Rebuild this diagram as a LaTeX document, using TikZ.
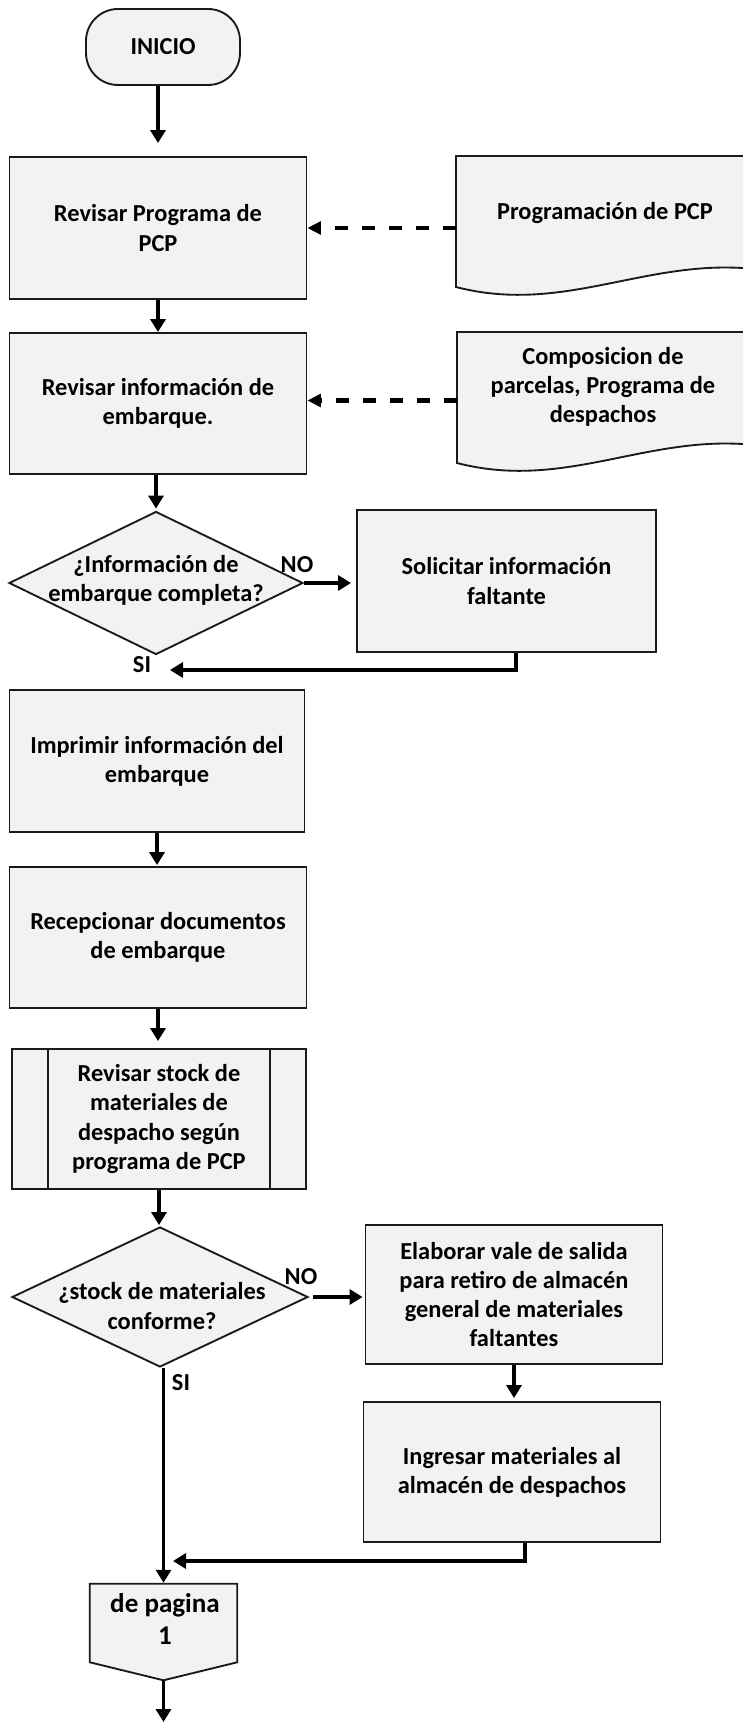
\documentclass[tikz,border=0pt]{standalone}
\usepackage{fontspec}
\setmainfont{Carlito}
\usetikzlibrary{shapes.geometric,arrows.meta,calc}
\definecolor{boxfill}{HTML}{F2F2F2}
\definecolor{boxline}{HTML}{1A1A1A}
\begin{document}
\begin{tikzpicture}[x=0.75pt,y=-0.75pt,
  txt/.style={font=\bfseries\fontsize{18.3}{21.8}\selectfont, align=center, inner sep=0pt},
  box/.style={txt, draw=boxline, fill=boxfill, line width=1.4pt, rectangle},
  sz/.style 2 args={minimum width=#1*0.75pt, minimum height=#2*0.75pt},
  dec/.style={draw=boxline, fill=boxfill, line width=1.4pt, diamond, inner sep=0pt},
  shape line/.style={draw=boxline, fill=boxfill, line width=1.4pt},
  arr/.style={line width=2.5pt, -{Triangle[width=11.25pt,length=9.75pt]}},
  darr/.style={line width=3pt, dash pattern=on 9.75pt off 10.5pt, -{Triangle[width=9.5pt,length=10pt]}},
  gap/.style={shorten >=#1*0.75pt},
  lbl/.style={font=\bfseries\fontsize{18.3}{21.8}\selectfont, inner sep=0pt}
]
\fill[white] (0,0) rectangle (742,1722);
\useasboundingbox (0,0) rectangle (742,1722);

% start
\node[box, rounded corners=24pt, sz={154}{76}] (ini) at (163,47) {INICIO};

% first process
\node[box, sz={297}{142}] (b1) at (158,228) {Revisar Programa de\\PCP};

% document 1
\coordinate (doc1) at (456,156);
\path[shape line] (770,156) -- (doc1) -- (456,287)
  .. controls (560,314) and (640,262) .. (742,268) -- (770,267) -- cycle;
\node[txt] (doc1t) at (605,213) {Programación de PCP};

% second process
\node[box, sz={297}{141}] (b2) at (158,403.5) {Revisar información de\\embarque.};

% document 2
\coordinate (doc2) at (457,332);
\path[shape line] (770,332) -- (doc2) -- (457,463)
  .. controls (561,490) and (641,438) .. (742,444) -- (770,443) -- cycle;
\node[txt] (doc2t) at (603,387) {Composicion de\\parcelas, Programa de\\despachos};

% decision 1
\node[dec, sz={294}{143}] (d1) at (156,583) {};
\node[txt] (d1t) at (156,580) {¿Información de\\embarque completa?};
\node[box, sz={299}{142}] (sol) at (506.5,581) {Solicitar información\\faltante};
\node[lbl] (no1) at (297,565) {NO};
\node[lbl] (si1) at (142,665) {SI};
\coordinate (r1) at (170,670);

% next processes
\node[box, sz={295}{142}] (imp) at (157,761) {Imprimir información del\\embarque};
\node[box, sz={297}{141}] (rec) at (158,937.5) {Recepcionar documentos\\de embarque};
\node[box, sz={294}{140}] (pp) at (159,1119) {Revisar stock de\\materiales de\\despacho según\\programa de PCP};
\draw[boxline, line width=1.4pt] ([xshift=27.75pt]pp.north west) -- ([xshift=27.75pt]pp.south west);
\draw[boxline, line width=1.4pt] ([xshift=-27.75pt]pp.north east) -- ([xshift=-27.75pt]pp.south east);

% decision 2
\node[dec, sz={296}{140}] (d2) at (160,1297) {};
\node[txt] (d2t) at (162,1306) {¿stock de materiales\\conforme?};
\node[box, sz={297}{139}] (ela) at (514,1294.5) {Elaborar vale de salida\\para retiro de almacén\\general de materiales\\faltantes};
\node[box, sz={297}{140}] (ing) at (512,1472) {Ingresar materiales al\\almacén de despachos};
\node[lbl] (no2) at (301,1277) {NO};
\node[lbl] (si2) at (181,1383) {SI};
\coordinate (r2) at (173,1561);

% off-page connector
\node[inner sep=0pt, sz={147}{96}] (off) at (163.5,1632) {};
\path[shape line] (off.north west) -- (off.north east) -- ($(off.south east)+(0,-18)$)
  -- (off.south) -- ($(off.south west)+(0,-18)$) -- cycle;
\node[txt, font=\bfseries\fontsize{20.3}{24}\selectfont] (offt) at (165,1619) {de pagina\\1};
\coordinate (fin) at (165,1722);

% connectors
\draw[arr, gap=13] (b1.north |- ini.south) -- (b1.north);
\draw[arr] (b1.south) -- (b1.south |- b2.north);
\draw[darr] (b1.east -| doc1) -- (b1.east);
\draw[darr] ($(b2.east -| doc2)+(0,-3)$) -- ($(b2.east)+(0,-3)$);
\draw[arr, gap=2] (d1.north |- b2.south) -- (d1.north);
\draw[arr, gap=5] (d1.east) -- (d1.east -| sol.west);
\draw[arr] ([xshift=7pt]sol.south) |- (r1);
\draw[arr, gap=1] (imp.south) -- (imp.south |- rec.north);
\draw[arr, gap=7] (rec.south) -- (rec.south |- pp.north);
\draw[arr, gap=1] (pp.south) -- (pp.south |- d2.north);
\draw[arr, gap=2] ([xshift=3pt]d2.east) -- (d2.east -| ela.west);
\draw[arr, gap=3] (ela.south) -- (ela.south |- ing.north);
\draw[arr] ([xshift=9.75pt]ing.south) |- (r2);
\draw[arr, gap=1] (off.north |- d2.south) -- (off.north);
\draw[arr] (off.south) -- (off.south |- fin);
\end{tikzpicture}
\end{document}
